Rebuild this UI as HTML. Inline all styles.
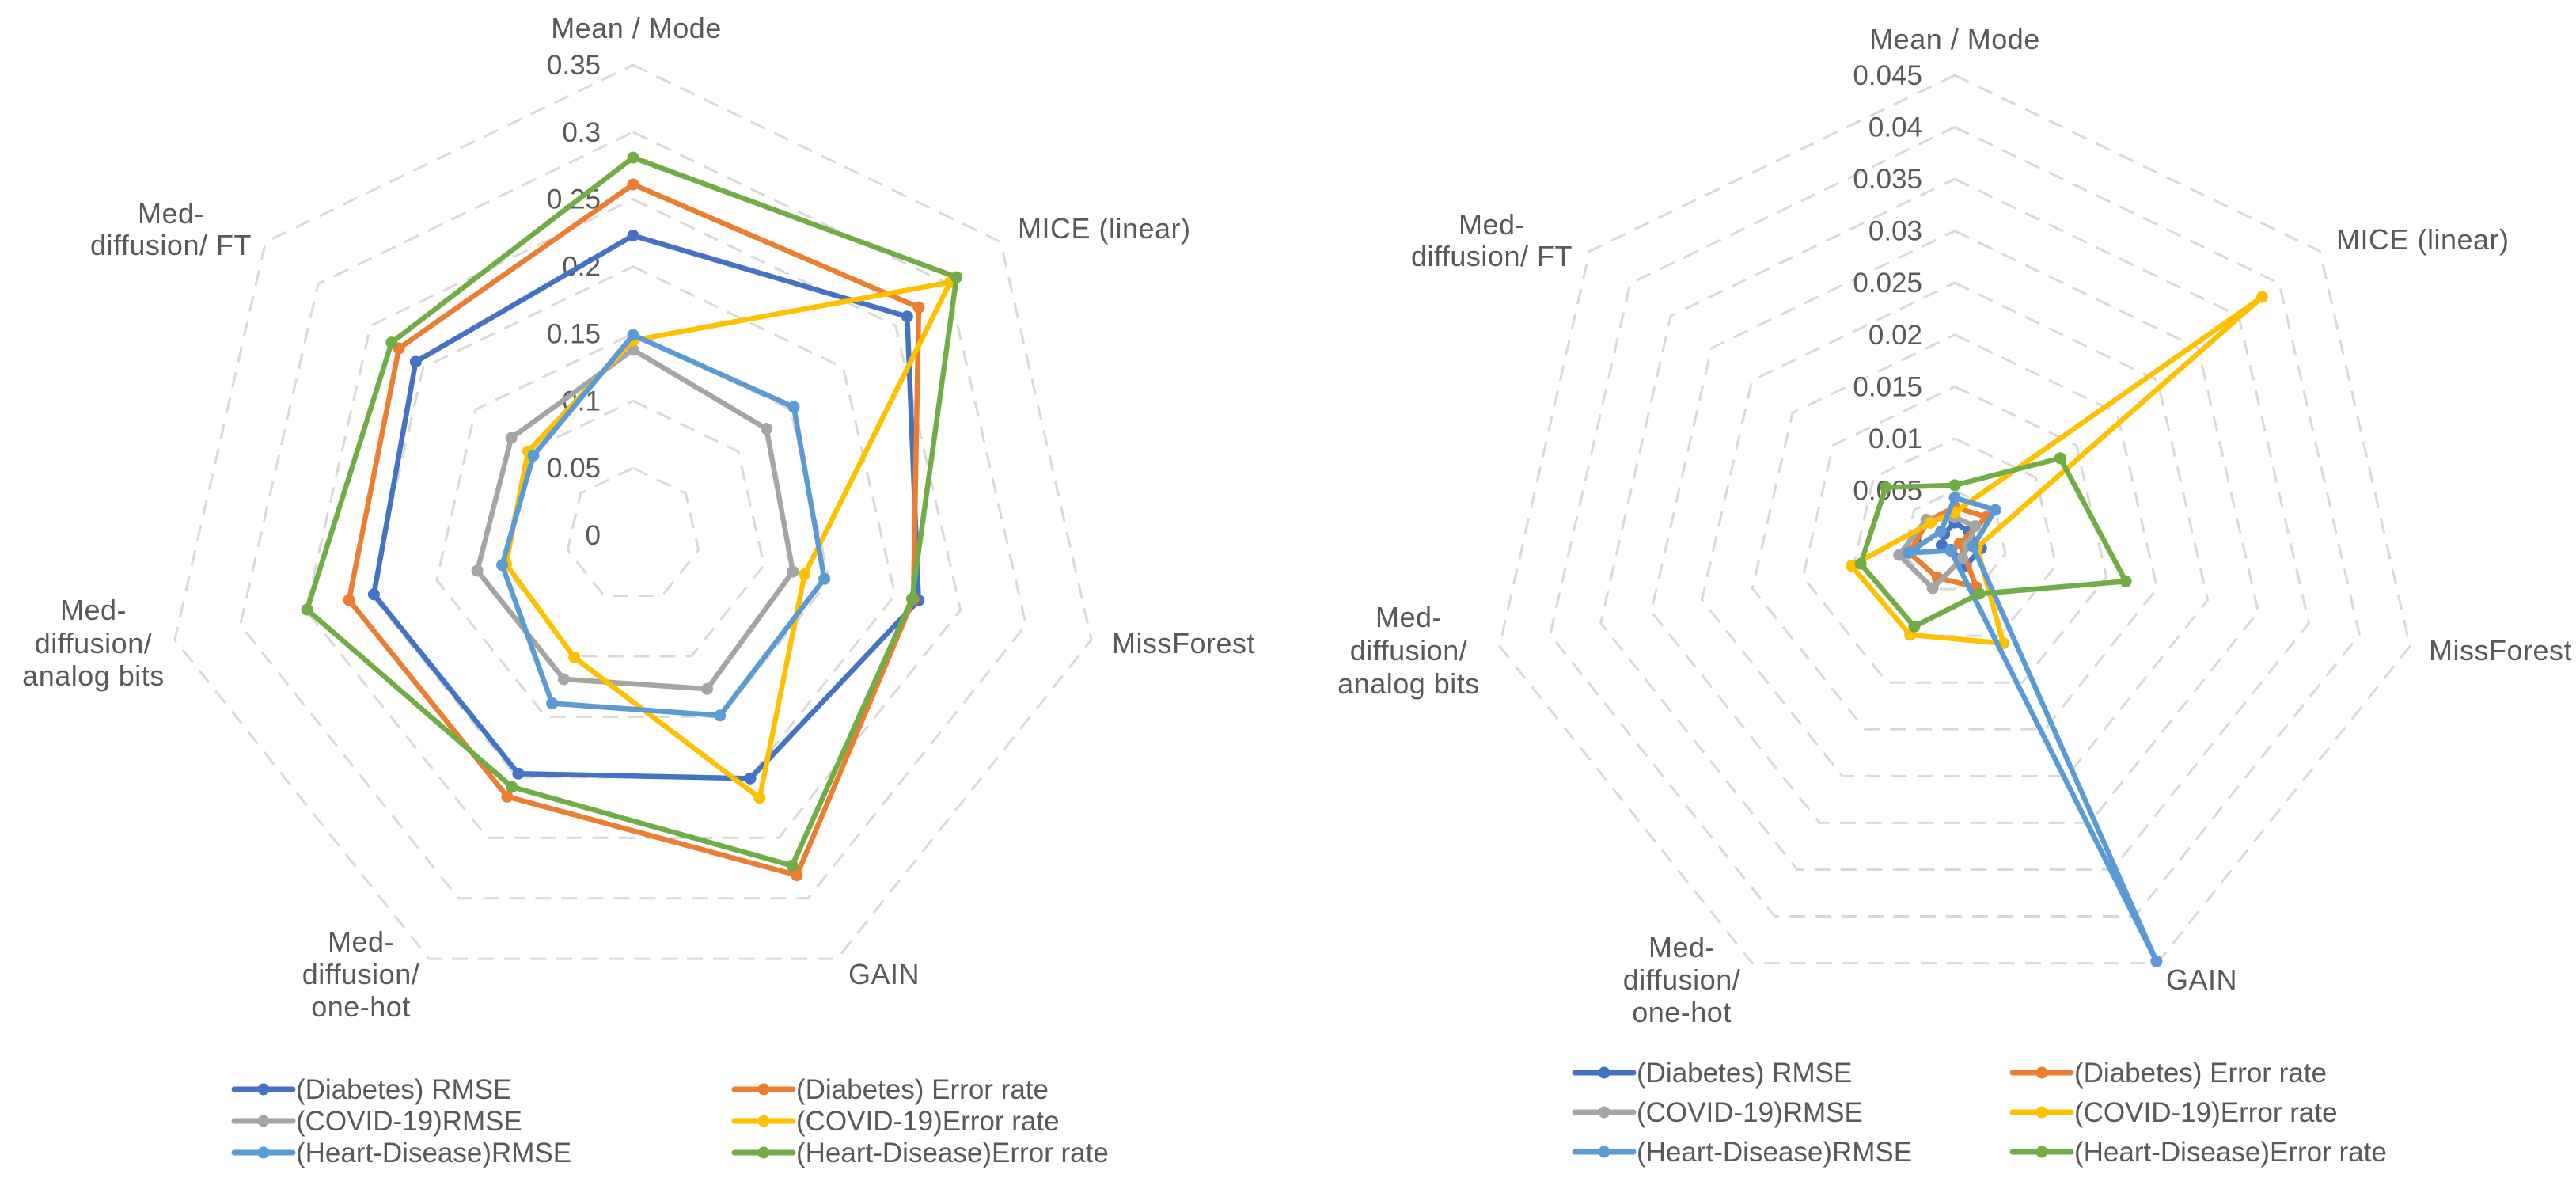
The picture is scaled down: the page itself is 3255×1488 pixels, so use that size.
<!DOCTYPE html>
<html><head><meta charset="utf-8"><style>
html,body{margin:0;padding:0;background:#fff;}
svg{display:block;font-family:"Liberation Sans",sans-serif;}
</style></head><body>
<svg id="root" width="3255" height="1488" viewBox="0 0 3255 1488" xmlns="http://www.w3.org/2000/svg"></svg>
<script>
const categories = ["Mean / Mode","MICE (linear)","MissForest","GAIN","Med-diffusion/ one-hot","Med-diffusion/ analog bits","Med-diffusion/ FT"];
const seriesNames = ["(Diabetes) RMSE","(Diabetes) Error rate","(COVID-19)RMSE","(COVID-19)Error rate","(Heart-Disease)RMSE","(Heart-Disease)Error rate"];
const seriesColors = ["#4472C4","#ED7D31","#A5A5A5","#FFC000","#5B9BD5","#70AD47"];
// Left chart values (order of categories)
const leftDiabetesRMSE = [0.223,0.261,0.218,0.201,0.197,0.198,0.207];
const leftDiabetesErr  = [0.261,0.272,0.214,0.281,0.216,0.217,0.223];
const leftCovidRMSE    = [0.138,0.127,0.122,0.127,0.119,0.119,0.116];
const leftCovidErr     = [0.145,0.302,0.131,0.217,0.101,0.097,0.100];
const leftHeartRMSE    = [0.149,0.153,0.146,0.149,0.139,0.100,0.095];
const leftHeartErr     = [0.281,0.308,0.213,0.273,0.208,0.249,0.230];
const leftTicks = ["0","0.05","0.1","0.15","0.2","0.25","0.3","0.35"];
// Right chart values
const rightDiabetesRMSE = [0.0019,0.0017,0.0026,0.0025,0.0008,0.0013,0.0013];
const rightDiabetesErr  = [0.0034,0.0039,0.0005,0.0048,0.0038,0.0045,0.0033];
const rightCovidRMSE    = [0.0024,0.0025,0.0013,0.0017,0.0049,0.0055,0.0035];
const rightCovidErr     = [0.0029,0.0379,0.0022,0.0108,0.0099,0.0102,0.0030];
const rightHeartRMSE    = [0.0043,0.0050,0.0018,0.0448,0.0009,0.0046,0.0017];
const rightHeartErr     = [0.0055,0.0130,0.0169,0.0055,0.0090,0.0093,0.0085];
const rightTicks = ["0","0.005","0.01","0.015","0.02","0.025","0.03","0.035","0.04","0.045"];

const NS="http://www.w3.org/2000/svg";
const root=document.getElementById('root');
function mk(tag,attrs,parent){const e=document.createElementNS(NS,tag);for(const k in attrs)e.setAttribute(k,attrs[k]);(parent||root).appendChild(e);return e;}

function drawChart(cfg){
  const g=mk('g',{});
  
  
  const n=categories.length, max=cfg.max, nt=cfg.ticks.length-1;
  const ang=i=>i*2*Math.PI/n;
  const pt=(i,v)=>{const r=v/max*cfg.R;return [cfg.cx+r*Math.sin(ang(i)), cfg.cy-r*Math.cos(ang(i))];};
  // grid rings
  for(let k=1;k<=nt;k++){
    const v=max*k/nt; const pts=[];
    for(let i=0;i<n;i++)pts.push(pt(i,v).join(','));
    const p=mk('polygon',{points:pts.join(' '),fill:'none',stroke:'#D9D9D9','stroke-width':3,'stroke-dasharray':'20 13'},g);
    
    
  }
  // tick labels
  for(let k=0;k<=nt;k++){
    const y=cfg.cy-cfg.R*k/nt;
    const t=mk('text',{x:cfg.cx-41,y:y+12,'text-anchor':'end','font-size':35,fill:'#595959'},g);
    t.textContent=cfg.ticks[k];
    
    
  }
  // category labels
  cfg.labels.forEach((L,i)=>{
    const t=mk('text',{x:L.x,'text-anchor':L.a,'font-size':36,fill:'#595959','letter-spacing':0.5},g);
    
    
    L.lines.forEach((s,j)=>{const ts=mk('tspan',{x:L.x,y:L.ys[j]+12},t);ts.textContent=s;});
  });
  // series
  cfg.data.forEach((vals,s)=>{
    const sg=mk('g',{},g);
    
    
    const pts=vals.map((v,i)=>pt(i,v));
    const pl=mk('polygon',{points:pts.map(p=>p.join(',')).join(' '),fill:'none',stroke:seriesColors[s],'stroke-width':6.5,'stroke-linejoin':'round'},sg);
    
    
    pts.forEach(p=>{
      const c=mk('circle',{cx:p[0],cy:p[1],r:7.5,fill:seriesColors[s]},sg);
      
      
    });
  });
  // legend
  seriesNames.forEach((nm,s)=>{
    const col=s%2,row=Math.floor(s/2);
    const x0=cfg.leg.x[col], y=cfg.leg.y[row];
    const lg=mk('g',{},g);
    
    
    mk('line',{x1:x0,y1:y,x2:x0+74,y2:y,stroke:seriesColors[s],'stroke-width':7,'stroke-linecap':'round'},lg);
    mk('circle',{cx:x0+37,cy:y,r:7.5,fill:seriesColors[s]},lg);
    const t=mk('text',{x:x0+78,y:y+12,'font-size':35,fill:'#595959'},lg);
    t.textContent=nm;
  });
}

drawChart({name:'left-radar-chart',cx:800,cy:676,R:594,max:0.35,ticks:leftTicks,
  data:[leftDiabetesRMSE,leftDiabetesErr,leftCovidRMSE,leftCovidErr,leftHeartRMSE,leftHeartErr],
  labels:[
    {x:804,a:'middle',lines:['Mean / Mode'],ys:[36]},
    {x:1286,a:'start',lines:['MICE (linear)'],ys:[289]},
    {x:1405,a:'start',lines:['MissForest'],ys:[813]},
    {x:1117,a:'middle',lines:['GAIN'],ys:[1231]},
    {x:456,a:'middle',lines:['Med-','diffusion/','one-hot'],ys:[1190,1231,1272]},
    {x:118,a:'middle',lines:['Med-','diffusion/','analog bits'],ys:[771,813,854]},
    {x:216,a:'middle',lines:['Med-','diffusion/ FT'],ys:[270,310]}
  ],
  leg:{x:[296,928],y:[1376,1416,1456]}});

drawChart({name:'right-radar-chart',cx:2470,cy:685,R:590,max:0.045,ticks:rightTicks,
  data:[rightDiabetesRMSE,rightDiabetesErr,rightCovidRMSE,rightCovidErr,rightHeartRMSE,rightHeartErr],
  labels:[
    {x:2470,a:'middle',lines:['Mean / Mode'],ys:[50]},
    {x:2952,a:'start',lines:['MICE (linear)'],ys:[303]},
    {x:3069,a:'start',lines:['MissForest'],ys:[822]},
    {x:2737,a:'start',lines:['GAIN'],ys:[1238]},
    {x:2125,a:'middle',lines:['Med-','diffusion/','one-hot'],ys:[1197,1238,1279]},
    {x:1780,a:'middle',lines:['Med-','diffusion/','analog bits'],ys:[780,822,864]},
    {x:1885,a:'middle',lines:['Med-','diffusion/ FT'],ys:[284,324]}
  ],
  leg:{x:[1990,2543],y:[1355,1405,1455]}});
</script>
</body></html>
